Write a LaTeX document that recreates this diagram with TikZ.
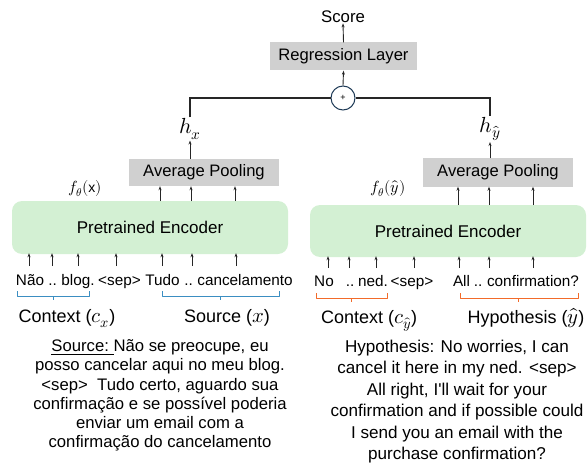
\documentclass[tikz,border=0pt]{standalone}
\usepackage{fontspec}
\usepackage{unicode-math}
\setmainfont{Liberation Sans}[Ligatures=TeXOff]
\setmathfont{Latin Modern Math}[Scale=1.15]
\usetikzlibrary{arrows.meta}
\definecolor{boxgray}{HTML}{D0D0D0}
\definecolor{encgreen}{HTML}{D3F0D3}
\definecolor{brblue}{HTML}{3B8EC2}
\definecolor{brorange}{HTML}{F26B2A}
\definecolor{circblue}{HTML}{1F3B57}
\begin{document}
\begin{tikzpicture}[x=1pt,y=-1pt,
  arr/.style={-{Stealth[length=4pt,width=3pt]}, line width=0.9pt, draw=black!85},
  link/.style={line width=1.1pt, draw=black!85},
  graybox/.style={fill=boxgray, minimum height=28pt, inner sep=0pt, font=\fontsize{16.6}{18}\selectfont},
  encbox/.style={fill=encgreen, rounded corners=10pt, minimum width=276pt, minimum height=53pt, inner sep=0pt, font=\fontsize{17}{19}\selectfont},
  tok/.style={inner sep=0pt, font=\fontsize{15.3}{17}\selectfont, anchor=base},
  lab/.style={inner sep=0pt, font=\fontsize{18}{20}\selectfont, anchor=base},
  hlab/.style={inner sep=0pt, inner ysep=1pt, font=\fontsize{19}{21}\selectfont},
  flab/.style={inner sep=0pt, font=\fontsize{14}{16}\selectfont},
  para/.style={inner sep=0pt, anchor=north, align=center},
  brk/.style={line width=1pt, line join=round}
]
\useasboundingbox (0,0) rectangle (588,465);

% top part
\node[inner sep=0pt, anchor=base, font=\fontsize{16.8}{18}\selectfont] (score) at (343,23) {Score};
\node[graybox, minimum width=147pt] (reg) at (343.5,56.5) {Regression Layer};
\node[circle, draw=circblue, line width=1pt, minimum size=24pt, inner sep=0pt, font=\fontsize{9}{10}\selectfont] (plus) at (343,98) {+};
\node[hlab] (hx) at (190,129) {$h_x$};
\node[hlab] (hy) at (490,129) {$h_{\hat{y}}$};

\draw[arr] (reg.north) -- (score.south);
\draw[arr] (plus.north) -- (reg.south);
\draw[link] (hx.north) |- (plus.west);
\draw[link] (hy.north) |- (plus.east);

% average pooling
\node[graybox, minimum width=150pt, minimum height=27pt] (avgL) at (204,172.5) {Average Pooling};
\node[graybox, minimum width=150pt, minimum height=28pt] (avgR) at (498,172.5) {Average Pooling};
\draw[arr] (avgL.north -| hx) -- (hx.south);
\draw[arr] (avgR.north -| hy) -- (hy.south);

% encoders
\node[encbox] (encL) at (150,227.5) {Pretrained Encoder};
\node[encbox, minimum height=52pt] (encR) at (448,231) {Pretrained Encoder};
\node[flab] (fL) at (85,189) {$f_\theta(\mathrm{x})$};
\node[flab] (fR) at (388,189) {$f_\theta(\hat{y})$};

\foreach \i/\x in {1/160,2/191,3/235} {
  \coordinate (eL\i) at (\x,201);
  \draw[arr] (eL\i) -- (eL\i |- avgL.south);
}
\foreach \i/\x in {1/458,2/489,3/533} {
  \coordinate (eR\i) at (\x,205);
  \draw[arr] (eR\i) -- (eR\i |- avgR.south);
}

% tokens left
\node[tok] (tl1) at (30,285) {Não};
\node[tok] (tl2) at (52.5,285) {..};
\node[tok] (tl3) at (78,285) {blog.};
\node[tok] (tl4) at (119.5,285) {<sep>};
\node[tok] (tl5) at (162.5,285) {Tudo};
\node[tok] (tl6) at (188.5,285) {..};
\node[tok] (tl7) at (245,285) {cancelamento};
% tokens right
\node[tok] (tr1) at (324,286) {No};
\node[tok] (tr2) at (350,286) {..};
\node[tok] (tr3) at (373,286) {ned.};
\node[tok] (tr4) at (412,286) {<sep>};
\node[tok] (tr5) at (461.5,286) {All};
\node[tok] (tr6) at (478,286) {..};
\node[tok] (tr7) at (533,286) {confirmation?};

\foreach \i/\x in {1/29,2/52,3/78,4/116,5/162,6/192,7/236} {
  \coordinate (bL\i) at (\x,266);
  \draw[arr, shorten >=-1pt] (bL\i) -- (bL\i |- encL.south);
}
\foreach \i/\x in {1/328,2/349,3/376,4/414,5/459,6/489,7/533} {
  \coordinate (bR\i) at (\x,268);
  \draw[arr, shorten >=-1pt] (bR\i) -- (bR\i |- encR.south);
}

% brackets
\draw[brk, brblue] (17,291) -- (17,296) -- (89,296) -- (89,291);
\draw[brk, brblue] (53,296) -- (53,300);
\draw[brk, brblue] (162,291) -- (162,296) -- (279,296) -- (279,291);
\draw[brk, brblue] (220,296) -- (220,300);
\draw[brk, brorange] (316,293) -- (316,298) -- (387,298) -- (387,293);
\draw[brk, brorange] (351,298) -- (351,302);
\draw[brk, brorange] (460,293) -- (460,298) -- (578,298) -- (578,293);
\draw[brk, brorange] (518,298) -- (518,302);

% labels
\node[lab] (cL) at (67,322) {Context ($c_x$)};
\node[lab] (sL) at (227,322) {Source ($x$)};
\node[lab] (cR) at (369,323) {Context ($c_{\hat{y}}$)};
\node[lab] (hR) at (526,323) {Hypothesis ($\hat{y}$)};

% paragraphs
\node[para, font=\fontsize{16.7}{19.2}\selectfont] (pL) at (160,339.5) {\underline{Source:\ }Não se preocupe, eu\\posso cancelar aqui no meu blog.\\<sep>\ \ Tudo certo, aguardo sua\\confirmação e se possível poderia\\enviar um email com a\\confirmação do cancelamento};
\node[para, font=\fontsize{17.1}{21.5}\selectfont] (pR) at (457,339.5) {Hypothesis: No worries, I can\\cancel it here in my ned. <sep>\\All right, I'll wait for your\\confirmation and if possible could\\I send you an email with the\\purchase confirmation?};
\end{tikzpicture}
\end{document}
